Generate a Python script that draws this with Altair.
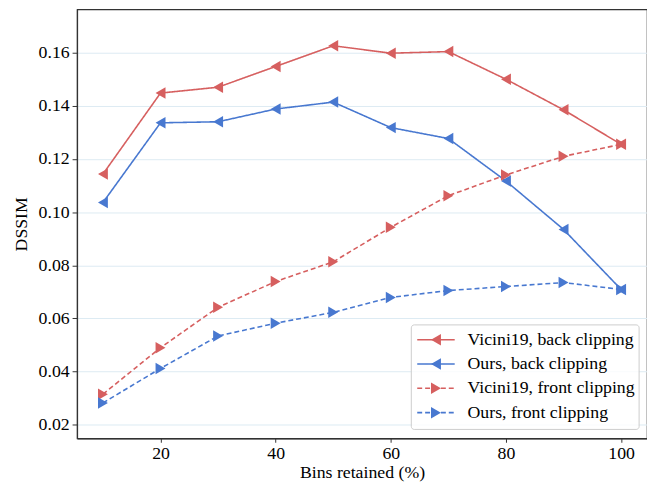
import altair as alt
import pandas as pd

bins = [10, 20, 30, 40, 50, 60, 70, 80, 90, 100]
vicini_back = [0.1143, 0.1448, 0.1470, 0.1548, 0.1626, 0.1598, 0.1604, 0.1500, 0.1385, 0.1255]
ours_back = [0.1036, 0.1336, 0.1340, 0.1388, 0.1414, 0.1318, 0.1277, 0.1117, 0.0935, 0.0709]
vicini_front = [0.0315, 0.0490, 0.0642, 0.0739, 0.0813, 0.0943, 0.1062, 0.1140, 0.1210, 0.1255]
ours_front = [0.0282, 0.0412, 0.0534, 0.0582, 0.0623, 0.0679, 0.0705, 0.0720, 0.0735, 0.0709]

series_names = ["Vicini19, back clipping", "Ours, back clipping",
                "Vicini19, front clipping", "Ours, front clipping"]
series_values = [vicini_back, ours_back, vicini_front, ours_front]
colors = ["#d65f5f", "#4878d0", "#d65f5f", "#4878d0"]
shapes = ["triangle-left", "triangle-left", "triangle-right", "triangle-right"]
dashes = [[1, 0], [1, 0], [5, 3], [5, 3]]
y_ticks = [0.02, 0.04, 0.06, 0.08, 0.10, 0.12, 0.14, 0.16]
x_ticks = [20, 40, 60, 80, 100]

rows = []
for i, (name, vals) in enumerate(zip(series_names, series_values)):
    for b, v in zip(bins, vals):
        rows.append({"series": name, "order": i, "bins": b, "dssim": v})
df = pd.DataFrame(rows)

W, H = 578, 435
FONT = "Liberation Serif"
FS = 18

color_scale = alt.Scale(domain=series_names, range=colors)
shape_scale = alt.Scale(domain=series_names, range=shapes)
dash_scale = alt.Scale(domain=series_names, range=dashes)

x_enc = alt.X("bins:Q", scale=alt.Scale(domain=[5.5, 104.5], nice=False, zero=False),
              axis=alt.Axis(values=x_ticks, title="Bins retained (%)", grid=False,
                            tickSize=4, labelPadding=2, titlePadding=2))
y_enc = alt.Y("dssim:Q", scale=alt.Scale(domain=[0.0149, 0.1763], nice=False, zero=False),
              axis=alt.Axis(values=y_ticks, format=".2f", title="DSSIM", grid=True,
                            gridColor="#dcebf3", gridWidth=1, tickSize=5,
                            labelPadding=3, titlePadding=8))

base = alt.Chart(df)
lines = base.mark_line(strokeWidth=1.6).encode(
    x=x_enc, y=y_enc,
    color=alt.Color("series:N", scale=color_scale, legend=None),
    strokeDash=alt.StrokeDash("series:N", scale=dash_scale, legend=None),
    detail="series:N",
)
points = base.mark_point(filled=True, size=135, opacity=1).encode(
    x="bins:Q", y="dssim:Q",
    color=alt.Color("series:N", scale=color_scale, legend=None),
    shape=alt.Shape("series:N", scale=shape_scale, legend=None),
    order="order:Q",
)
data_layer = alt.layer(lines, points)

# custom legend
leg_df = pd.DataFrame({"series": series_names, "row": [0, 1, 2, 3]})
leg_y = alt.Y("row:Q", scale=alt.Scale(domain=[0, 3], range=[335, 409]), axis=None)
box = alt.Chart(pd.DataFrame({"a": [0]})).mark_rect(
    fill="white", fillOpacity=0.8, stroke="#cccccc", strokeWidth=1, cornerRadius=3
).encode(x=alt.value(339), x2=alt.value(570), y=alt.value(320), y2=alt.value(426))
leg_base = alt.Chart(leg_df)
leg_lines = leg_base.mark_rule(strokeWidth=1.6).encode(
    x=alt.value(345), x2=alt.value(383), y=leg_y,
    color=alt.Color("series:N", scale=color_scale, legend=None),
    strokeDash=alt.StrokeDash("series:N", scale=dash_scale, legend=None),
)
leg_pts = leg_base.mark_point(filled=True, size=135, opacity=1).encode(
    x=alt.value(364), y=leg_y,
    color=alt.Color("series:N", scale=color_scale, legend=None),
    shape=alt.Shape("series:N", scale=shape_scale, legend=None),
)
leg_text = leg_base.mark_text(align="left", baseline="middle", font=FONT, fontSize=FS,
                              color="#000000").encode(
    x=alt.value(396), y=leg_y, text="series:N")
legend = alt.layer(box, leg_lines, leg_pts, leg_text)

chart = alt.layer(data_layer, legend).resolve_scale(y="independent").properties(
    width=W, height=H, padding={"left": 4, "top": -2, "right": 0, "bottom": 0}
).configure_view(stroke="#333333", strokeWidth=1.2).configure_axis(
    labelFont=FONT, titleFont=FONT, labelFontSize=FS, titleFontSize=FS,
    labelColor="#000000", titleColor="#000000", titleFontWeight="normal",
    domainColor="#333333", tickColor="#333333", domainWidth=1.2, tickWidth=1
)

chart.save("out.html", embed_options={"renderer": "svg", "actions": False})
